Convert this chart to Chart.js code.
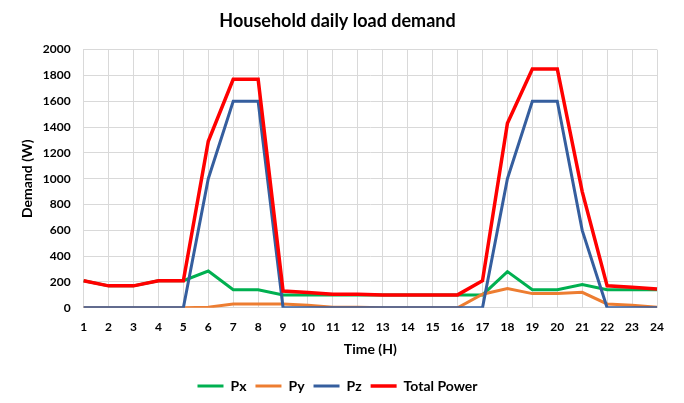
<!DOCTYPE html>
<html>
<head>
<meta charset="utf-8">
<script src="https://cdn.jsdelivr.net/npm/chart.js@4/dist/chart.umd.min.js"></script>
<style>
  html, body { margin: 0; padding: 0; background: #fff; }
  #wrap { width: 684px; height: 403px; }
</style>
</head>
<body>
<div id="wrap"><canvas id="chart" width="684" height="403"></canvas></div>
<script>
// hours of the day
const hours = ['1','2','3','4','5','6','7','8','9','10','11','12','13','14','15','16','17','18','19','20','21','22','23','24'];

// demand per load type (W)
const px = [210, 170, 170, 210, 210, 285, 140, 140, 100, 100, 100, 100, 100, 100, 100, 100, 100, 280, 140, 140, 180, 140, 140, 140];
const py = [0, 0, 0, 0, 0, 5, 30, 30, 30, 20, 5, 5, 0, 0, 0, 0, 105, 150, 110, 110, 120, 30, 20, 5];
const pz = [0, 0, 0, 0, 0, 1000, 1600, 1600, 0, 0, 0, 0, 0, 0, 0, 0, 0, 1000, 1600, 1600, 600, 0, 0, 0];
const total = [210, 170, 170, 210, 210, 1290, 1770, 1770, 130, 118, 105, 105, 100, 100, 100, 100, 210, 1430, 1850, 1850, 900, 170, 160, 145];

const FONT = 'Lato, "Open Sans", sans-serif';
const TXT = '#000000';

function line(label, data, color, width) {
    return {
        label: label,
        data: data,
        borderColor: color,
        backgroundColor: color,
        borderWidth: width,
        pointRadius: 0,
        tension: 0,
        fill: false
    };
}

// datasets listed back to front so Total sits on top; legend is reversed
const datasets = [
    line('Total Power', total, '#FF0000', 3.5),
    line('Pz', pz, '#355E9E', 3),
    line('Py', py, '#ED7D31', 3),
    line('Px', px, '#00B050', 3)
];

new Chart(document.getElementById('chart'), {
    type: 'line',
    data: { labels: hours, datasets: datasets },
    options: {
        responsive: false,
        animation: false,
        layout: { padding: { left: 18, right: 27, top: 6, bottom: 0 } },
        plugins: {
            title: {
                display: true,
                text: 'Household daily load demand',
                color: TXT,
                font: { family: FONT, size: 18, weight: 'bold' },
                padding: { top: 4, bottom: 18 }
            },
            legend: {
                position: 'bottom',
                reverse: true,
                labels: {
                    color: TXT,
                    font: { family: FONT, size: 14, weight: 'bold' },
                    usePointStyle: true,
                    pointStyle: 'line',
                    pointStyleWidth: 26,
                    padding: 9
                }
            },
            tooltip: { enabled: false }
        },
        scales: {
            x: {
                offset: false,
                grid: { color: '#D9D9D9', lineWidth: 1, drawTicks: false },
                border: { color: '#D9D9D9' },
                ticks: {
                    color: TXT,
                    font: { family: FONT, size: 12, weight: 'bold' },
                    maxRotation: 0,
                    autoSkip: false,
                    padding: 12
                },
                title: {
                    display: true,
                    text: 'Time (H)',
                    color: TXT,
                    font: { family: FONT, size: 14, weight: 'bold' },
                    padding: { top: -5, bottom: 12 }
                }
            },
            y: {
                min: 0,
                max: 2000,
                grid: { color: '#D9D9D9', lineWidth: 1, drawTicks: false },
                border: { color: '#D9D9D9' },
                ticks: {
                    stepSize: 200,
                    color: TXT,
                    font: { family: FONT, size: 12, weight: 'bold' },
                    padding: 13,
                    callback: function (v) { return String(v); }
                },
                title: {
                    display: true,
                    text: 'Demand (W)',
                    color: TXT,
                    font: { family: FONT, size: 14, weight: 'bold' },
                    padding: { top: 1, bottom: -6 }
                }
            }
        }
    }
});
</script>
</body>
</html>
